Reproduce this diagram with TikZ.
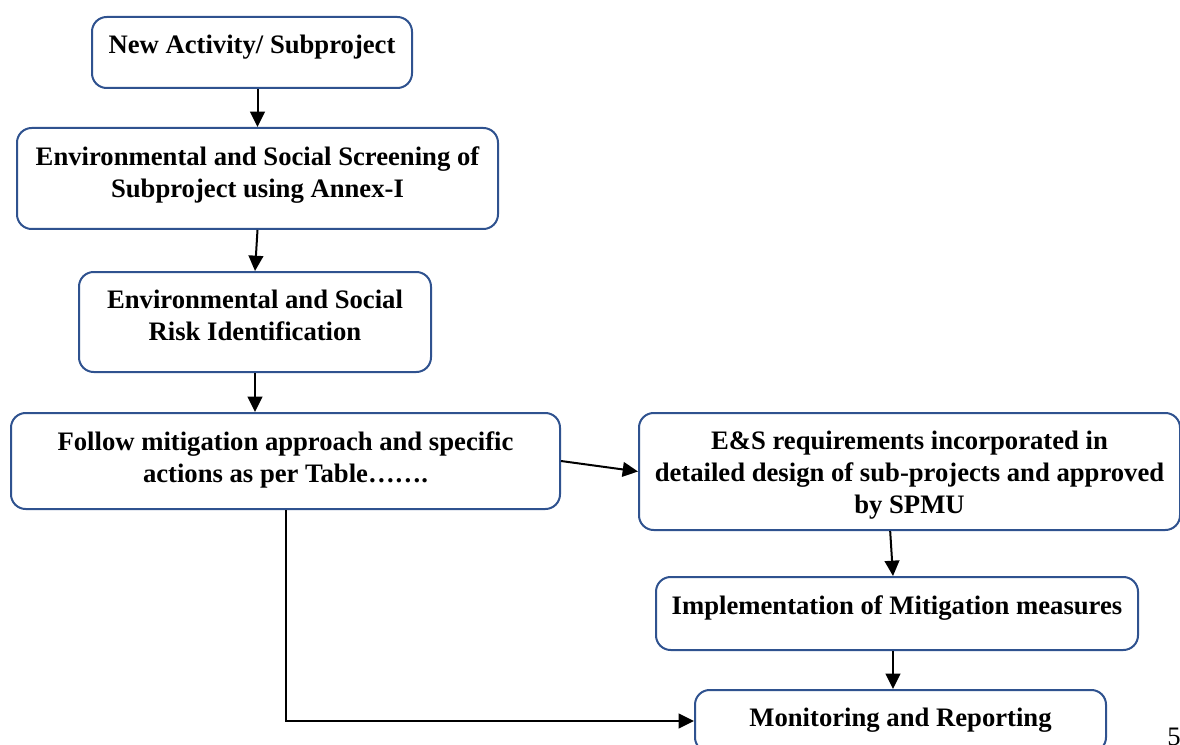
\documentclass[tikz,border=0pt]{standalone}
\usepackage{fontspec}
\setmainfont{Liberation Serif}
\usetikzlibrary{arrows.meta}
\begin{document}
\begin{tikzpicture}[x=0.75pt, y=-0.75pt,
  stepbox/.style={draw=boxblue, line width=1.5pt, rounded corners=11pt, fill=white},
  lbl/.style={anchor=north, yshift=-11pt, align=center, font=\bfseries\fontsize{20}{24}\selectfont},
  flow/.style={draw=black, line width=1.5pt, -{Triangle[length=11.5pt,width=11pt]}}]
\definecolor{boxblue}{HTML}{2F528F}
\useasboundingbox (0,0) rectangle (1180,745);
% boxes
\node[stepbox, minimum width=240pt, minimum height=53.25pt, label={[lbl]north:{New Activity/ Subproject}}] (new) at (252,52.5) {};
\node[stepbox, minimum width=360.75pt, minimum height=75.75pt, label={[lbl]north:{Environmental and Social Screening of\\Subproject using Annex-I}}] (screen) at (257.5,178.5) {};
\node[stepbox, minimum width=264pt, minimum height=75pt, label={[lbl]north:{Environmental and Social\\Risk Identification}}] (risk) at (255,322) {};
\node[stepbox, minimum width=411.75pt, minimum height=72pt, label={[lbl]north:{Follow mitigation approach and specific\\actions as per Table…….}}] (follow) at (285.5,461) {};
\node[stepbox, minimum width=405.75pt, minimum height=87.75pt, label={[lbl]north:{E\&S requirements incorporated in\\detailed design of sub-projects and approved\\by SPMU}}] (es) at (909.5,471.5) {};
\node[stepbox, minimum width=361.5pt, minimum height=54.75pt, label={[lbl]north:{Implementation of Mitigation measures}}] (impl) at (897,613.5) {};
\node[stepbox, minimum width=308.25pt, minimum height=46.5pt, label={[lbl]north:{Monitoring and Reporting}}] (mon) at (900.5,721) {};
\node[anchor=base west, font=\fontsize{20}{24}\selectfont, inner sep=0pt] (page) at (1167,745) {5};
% arrows
\draw[flow] (new.south -| screen.north) -- (screen.north);
\draw[flow] (screen.south) -- (risk.north);
\draw[flow] (risk.south) -- (risk.south |- follow.north);
\draw[flow] (follow.east) -- (es.west);
\draw[flow] ([xshift=-14.5pt]es.south) -- ([xshift=-3pt]impl.north);
\draw[flow] ([xshift=-3pt]impl.south) -- ([xshift=-3pt]impl.south |- mon.north);
\draw[flow] (follow.south) |- (mon.west);
\end{tikzpicture}
\end{document}
